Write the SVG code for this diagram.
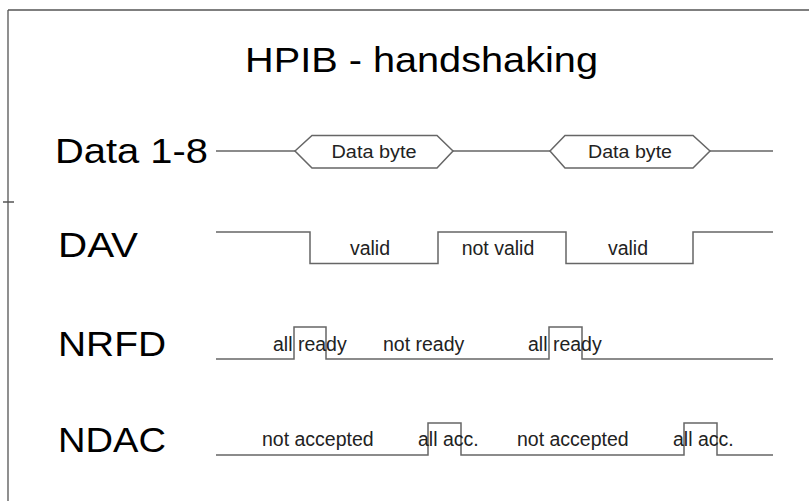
<svg xmlns="http://www.w3.org/2000/svg" width="809" height="501" viewBox="0 0 809 501">
  <style>
    .frame { fill: none; stroke: #555; stroke-width: 1.3; }
    .sig { fill: none; stroke: #666; stroke-width: 1.5; }
    .title { font-family: "Liberation Sans", Arial, sans-serif; font-size: 35px; fill: #000; }
    .name { font-family: "Liberation Sans", Arial, sans-serif; font-size: 35px; fill: #000; }
    .lbl { font-family: "Liberation Sans", Arial, sans-serif; font-size: 19.5px; fill: #222; }
    .byte { font-family: "Liberation Sans", Arial, sans-serif; font-size: 17.5px; fill: #222; }
  </style>
  <rect x="0" y="0" width="809" height="501" fill="#fff"/>
  <g id="frame">
    <path class="frame" d="M8 10 H809 M8 10 V501 M3 202 H14"/>
  </g>
  <g id="title">
    <text class="title" x="245" y="72" textLength="353" lengthAdjust="spacingAndGlyphs">HPIB - handshaking</text>
  </g>
  <g id="label-data">
    <text class="name" x="55" y="163" textLength="153" lengthAdjust="spacingAndGlyphs">Data 1-8</text>
  </g>
  <g id="label-dav">
    <text class="name" x="58" y="256.5" textLength="80" lengthAdjust="spacingAndGlyphs">DAV</text>
  </g>
  <g id="label-nrfd">
    <text class="name" x="58" y="356" textLength="108" lengthAdjust="spacingAndGlyphs">NRFD</text>
  </g>
  <g id="label-ndac">
    <text class="name" x="58" y="452" textLength="108" lengthAdjust="spacingAndGlyphs">NDAC</text>
  </g>
  <g id="connectors">
    <path id="data-line" class="sig" d="M216 151 H295 M453 151 H550 M710 151 H773"/>
    <path id="dav-line" class="sig" d="M216 232 H310 V263.5 H438 V232 H566 V263.5 H693 V232 H773"/>
    <path id="nrfd-line" class="sig" d="M216 359 H294 V327 H326 V359 H549 V327 H582 V359 H773"/>
    <path id="ndac-line" class="sig" d="M216 455 H428 V423 H461 V455 H684 V423 H717 V455 H773"/>
  </g>
  <g id="byte1">
    <polygon class="sig" points="295,151 312,135.5 437,135.5 453,151 437,168 312,168"/>
    <text class="byte" x="374" y="158" text-anchor="middle" textLength="85" lengthAdjust="spacingAndGlyphs">Data byte</text>
  </g>
  <g id="byte2">
    <polygon class="sig" points="550,151 565,135.5 693,135.5 710,151 693,168 565,168"/>
    <text class="byte" x="630" y="158" text-anchor="middle" textLength="84" lengthAdjust="spacingAndGlyphs">Data byte</text>
  </g>
  <g id="dav-labels">
    <text class="lbl" x="370" y="255" text-anchor="middle">valid</text>
    <text class="lbl" x="498" y="255" text-anchor="middle">not valid</text>
    <text class="lbl" x="628" y="255" text-anchor="middle">valid</text>
  </g>
  <g id="nrfd-labels">
    <text class="lbl" x="273" y="350.5">all ready</text>
    <text class="lbl" x="383" y="350.5">not ready</text>
    <text class="lbl" x="528" y="350.5">all ready</text>
  </g>
  <g id="ndac-labels">
    <text class="lbl" x="262" y="446">not accepted</text>
    <text class="lbl" x="418" y="446">all acc.</text>
    <text class="lbl" x="517" y="446">not accepted</text>
    <text class="lbl" x="673" y="446">all acc.</text>
  </g>
</svg>
